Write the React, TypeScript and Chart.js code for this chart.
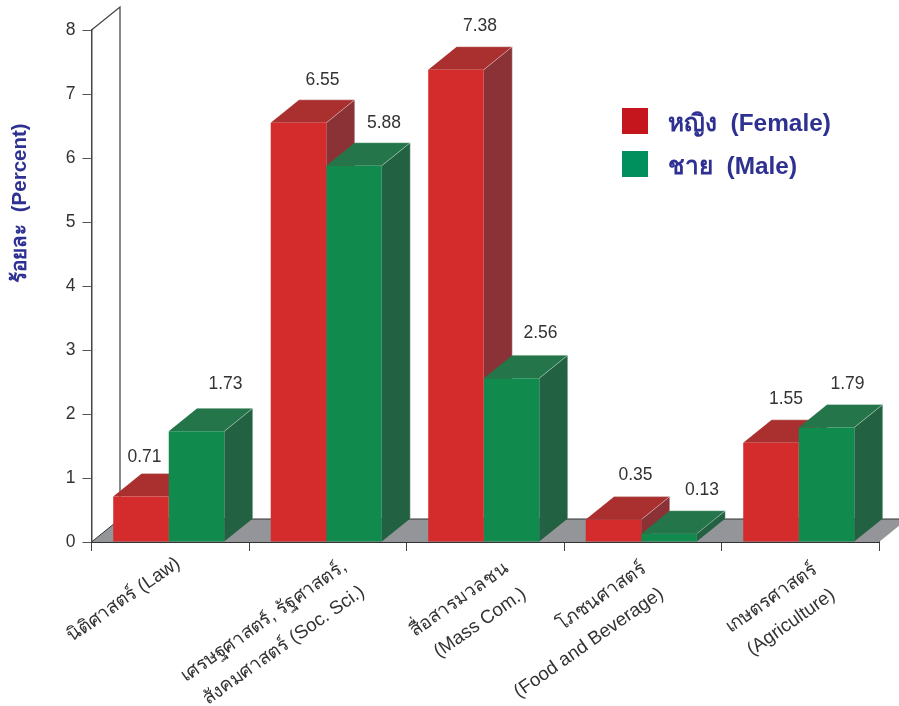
import React, { useEffect, useRef } from "react";
import { Chart, registerables } from "chart.js";

Chart.register(...registerables);

const categories: (string | string[])[] = [
  "นิติศาสตร์ (Law)",
  ["เศรษฐศาสตร์, รัฐศาสตร์,", "สังคมศาสตร์ (Soc. Sci.)"],
  ["สื่อสารมวลชน", "(Mass Com.)"],
  ["โภชนศาสตร์", "(Food and Beverage)"],
  ["เกษตรศาสตร์", "(Agriculture)"],
];
const femaleValues = [0.71, 6.55, 7.38, 0.35, 1.55];
const maleValues = [1.73, 5.88, 2.56, 0.13, 1.79];
const femaleLabel = "หญิง  (Female)";
const maleLabel = "ชาย  (Male)";
const yAxisTitle = "ร้อยละ  (Percent)";

// Value label nudges relative to each bar's front-top centre (styling, not data)
const femaleNudge = [[3.5, -39], [24, -43], [24, -44], [22, -44], [15, -44]];
const maleNudge = [[29, -47], [30, -43], [29, -45], [33, -44], [21, -43]];
// Category label nudges (styling, not data)
const tickNudge = [[8, -4], [17, -1], [21, 1], [1, 1], [15, 2]];

const FONT = '"Liberation Sans", "Noto Sans", sans-serif';
const DX = 28.5;
const DY = -23;
const BAR_SHIFT = -1.5;
const NAVY = "#2e3192";
const faces = [
  { front: "#d42c2c", top: "#aa3030", side: "#8a3236", legend: "#c4161c" },
  { front: "#118a4e", top: "#24754a", side: "#226243", legend: "#00905e" },
];

function poly(ctx: CanvasRenderingContext2D, pts: number[][], fill: string | null) {
  ctx.beginPath();
  pts.forEach((p, i) => (i ? ctx.lineTo(p[0], p[1]) : ctx.moveTo(p[0], p[1])));
  ctx.closePath();
  if (fill) {
    ctx.fillStyle = fill;
    ctx.fill();
  }
}

const scenePlugin = {
  id: "scene3d",
  afterDatasetsUpdate(chart: any) {
    [0, 1].forEach((d) => chart.getDatasetMeta(d).data.forEach((b: any) => { b.x += BAR_SHIFT; }));
  },
  beforeDraw(chart: any) {
    const xs = chart.scales.x;
    const items = xs.getLabelItems(chart.chartArea);
    if (!items.nudged) {
      items.forEach((it: any, i: number) => {
        it.options.translation[0] += tickNudge[i][0];
        it.options.translation[1] += tickNudge[i][1];
      });
      items.nudged = true;
    }
  },
  beforeDatasetsDraw(chart: any) {
    const { ctx, chartArea: a } = chart;
    ctx.save();
    // floor and back wall
    poly(ctx, [[a.left, a.bottom], [a.left + DX, a.bottom + DY], [a.right + DX, a.bottom + DY], [a.right, a.bottom]], "#939598");
    ctx.strokeStyle = "#333";
    ctx.lineWidth = 1;
    ctx.beginPath();
    ctx.moveTo(a.left + DX, a.bottom + DY);
    ctx.lineTo(a.right + DX, a.bottom + DY);
    ctx.moveTo(a.left, a.bottom);
    ctx.lineTo(a.left + DX, a.bottom + DY);
    ctx.stroke();
    ctx.strokeStyle = "#444";
    ctx.lineWidth = 1.25;
    ctx.beginPath();
    ctx.moveTo(a.left, a.top);
    ctx.lineTo(a.left + DX, a.top + DY);
    ctx.lineTo(a.left + DX, a.bottom + DY);
    ctx.stroke();
    // top and side faces of bars, behind the library's front faces
    const n = chart.data.labels.length;
    for (let j = 0; j < n; j++) {
      [0, 1].forEach((d) => {
        const b = chart.getDatasetMeta(d).data[j];
        const l = b.x - b.width / 2;
        const r = b.x + b.width / 2;
        const edge = "rgba(225,235,230,0.55)";
        poly(ctx, [[r, b.y], [r + DX, b.y + DY], [r + DX, b.base + DY], [r, b.base]], faces[d].side);
        poly(ctx, [[l, b.y], [l + DX, b.y + DY], [r + DX, b.y + DY], [r, b.y]], faces[d].top);
        ctx.strokeStyle = edge;
        ctx.lineWidth = 0.75;
        ctx.beginPath();
        ctx.moveTo(r, b.y);
        ctx.lineTo(r + DX, b.y + DY);
        ctx.lineTo(r + DX, b.base + DY);
        ctx.moveTo(l + DX, b.y + DY);
        ctx.lineTo(r + DX, b.y + DY);
        ctx.stroke();
      });
    }
    ctx.restore();
  },
  afterDraw(chart: any) {
    const { ctx } = chart;
    ctx.save();
    // value labels
    ctx.font = `17.5px ${FONT}`;
    ctx.fillStyle = "#333";
    ctx.textAlign = "center";
    ctx.textBaseline = "middle";
    [femaleNudge, maleNudge].forEach((nudge, d) => {
      const values = chart.data.datasets[d].data;
      chart.getDatasetMeta(d).data.forEach((b: any, j: number) => {
        ctx.fillText(values[j].toFixed(2), b.x + nudge[j][0], b.y + nudge[j][1]);
      });
    });
    // legend
    ctx.textAlign = "left";
    ctx.font = `bold 24.4px ${FONT}`;
    chart.data.datasets.forEach((ds: any, d: number) => {
      const top = d === 0 ? 108 : 151;
      ctx.fillStyle = faces[d].legend;
      ctx.fillRect(622, top, 26, 26);
      ctx.fillStyle = NAVY;
      ctx.fillText(ds.label, 668, top + 16);
    });
    // y axis title
    ctx.translate(20, 203);
    ctx.rotate(-Math.PI / 2);
    ctx.textAlign = "center";
    ctx.font = `bold 20.5px ${FONT}`;
    ctx.fillStyle = NAVY;
    ctx.fillText(yAxisTitle, 0, 0);
    ctx.restore();
  },
};

export default function App() {
  const ref = useRef<HTMLCanvasElement>(null);
  useEffect(() => {
    const chart = new Chart(ref.current!, {
      type: "bar",
      data: {
        labels: categories as any,
        datasets: [
          { label: femaleLabel, data: femaleValues, backgroundColor: faces[0].front, borderWidth: 0, categoryPercentage: 0.705, barPercentage: 1 },
          { label: maleLabel, data: maleValues, backgroundColor: faces[1].front, borderWidth: 0, categoryPercentage: 0.705, barPercentage: 1 },
        ] as any,
      },
      options: {
        responsive: false,
        animation: false,
        layout: { padding: { top: 30, right: 20, left: 0, bottom: 0 } },
        plugins: { legend: { display: false }, tooltip: { enabled: false } },
        scales: {
          x: {
            afterFit: (s: any) => {
              s.height = 164;
            },
            grid: { drawOnChartArea: false, color: "#444", tickLength: 9, lineWidth: 1 },
            border: { color: "#333", width: 2 },
            ticks: {
              autoSkip: false,
              maxRotation: 35,
              minRotation: 35,
              padding: 2,
              color: "#333",
              font: { family: FONT, size: 18.8, lineHeight: 1.65 },
            },
          } as any,
          y: {
            min: 0,
            max: 8,
            afterFit: (s: any) => {
              s.width = 91.5;
            },
            grid: { drawOnChartArea: false, color: "#555", tickLength: 9 },
            border: { color: "#444", width: 1.5 },
            ticks: {
              stepSize: 1,
              padding: 7,
              color: "#333",
              font: { family: FONT, size: 17.5 },
            },
          } as any,
        },
      },
      plugins: [scenePlugin],
    });
    return () => chart.destroy();
  }, []);
  return (
    <div style={{ position: "absolute", left: 0, top: 0, width: 899, height: 706, overflow: "hidden", background: "#fff" }}>
      <canvas ref={ref} width={899} height={706} style={{ display: "block" }} />
    </div>
  );
}
